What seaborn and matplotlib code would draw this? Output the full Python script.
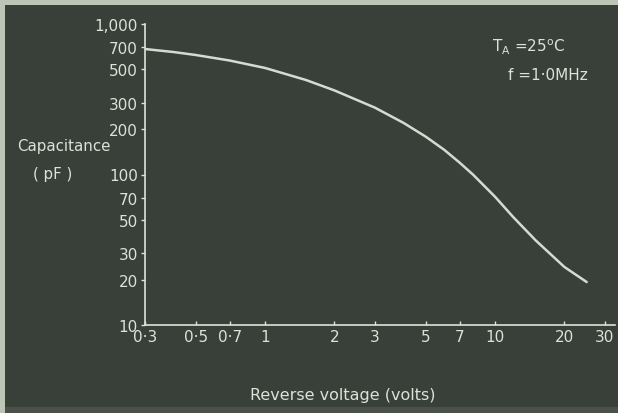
import matplotlib
matplotlib.use("Agg")
import matplotlib.pyplot as plt
from matplotlib.patches import Rectangle
from matplotlib.ticker import FixedLocator, FixedFormatter, NullLocator
import pandas as pd
import seaborn as sns

# Junction capacitance vs reverse bias (T_A = 25 °C, f = 1.0 MHz)
voltage = [0.3, 0.4, 0.5, 0.7, 1, 1.5, 2, 3, 4, 5, 6, 7, 8, 10, 12, 15, 20, 25]
capacitance = [682, 651, 622, 572, 510, 425, 362, 278, 220, 178, 146, 120, 100,
               71, 52, 36.5, 24.3, 19.3]

x_ticks = [0.3, 0.5, 0.7, 1, 2, 3, 5, 7, 10, 20, 30]
x_tick_labels = ["0·3", "0·5", "0·7", "1", "2", "3", "5", "7", "10", "20", "30"]
y_ticks = [10, 20, 30, 50, 70, 100, 200, 300, 500, 700, 1000]
y_tick_labels = ["10", "20", "30", "50", "70", "100", "200", "300", "500", "700", "1,000"]

BG = "#394039"
FG = "#dde1da"
FRAME = "#bcc5b6"

sns.set_theme(style="white")
plt.rcParams["font.family"] = ["DejaVu Sans"]

fig = plt.figure(figsize=(6.18, 4.14), dpi=100)
fig.patch.set_facecolor(FRAME)
fig.add_artist(Rectangle((5 / 618, 6 / 414), 613 / 618, 402 / 414,
                         transform=fig.transFigure, facecolor=BG,
                         edgecolor="none", zorder=0))
fig.add_artist(Rectangle((5 / 618, 0), 613 / 618, 6 / 414,
                         transform=fig.transFigure, facecolor="#4a504a",
                         edgecolor="none", zorder=0))

ax = fig.add_axes([145 / 618, 1 - 326 / 414, 470 / 618, 301 / 414])
ax.set_facecolor("none")

df = pd.DataFrame({"voltage": voltage, "capacitance": capacitance})
sns.lineplot(data=df, x="voltage", y="capacitance", ax=ax,
             color="#d6dad3", linewidth=1.8, legend=False)

ax.set_xscale("log")
ax.set_yscale("log")
ax.set_xlim(0.3, 33.2)
ax.set_ylim(10, 1000)

ax.xaxis.set_major_locator(FixedLocator(x_ticks))
ax.xaxis.set_major_formatter(FixedFormatter(x_tick_labels))
ax.xaxis.set_minor_locator(NullLocator())
ax.yaxis.set_major_locator(FixedLocator(y_ticks))
ax.yaxis.set_major_formatter(FixedFormatter(y_tick_labels))
ax.yaxis.set_minor_locator(NullLocator())

for side in ("top", "right"):
    ax.spines[side].set_visible(False)
for side in ("left", "bottom"):
    ax.spines[side].set_color(FG)
    ax.spines[side].set_linewidth(1.2)

ax.tick_params(axis="x", direction="in", length=3, width=1, colors=FG,
               labelsize=11, pad=3, bottom=True)
ax.tick_params(axis="y", direction="out", length=3, width=1, colors=FG,
               labelsize=11, pad=2, left=True)
for lab in ax.get_xticklabels() + ax.get_yticklabels():
    lab.set_color(FG)

ax.set_xlabel("")
ax.set_ylabel("")

fig.text(343 / 618, 1 - 396 / 414, "Reverse voltage (volts)", color=FG,
         fontsize=11.5, ha="center", va="center")
fig.text(64 / 618, 1 - 147 / 414, "Capacitance", color=FG,
         fontsize=10.8, ha="center", va="center")
fig.text(53 / 618, 1 - 175 / 414, "( pF )", color=FG,
         fontsize=10.8, ha="center", va="center")

fig.text(492 / 618, 1 - 47 / 414, r"T$_\mathregular{A}$ =25$^\mathregular{o}$C",
         color=FG, fontsize=11, ha="left", va="center")
fig.text(508 / 618, 1 - 75 / 414, "f =1·0MHz", color=FG,
         fontsize=11, ha="left", va="center")

fig.savefig("out.png", dpi=100, facecolor=fig.get_facecolor())
